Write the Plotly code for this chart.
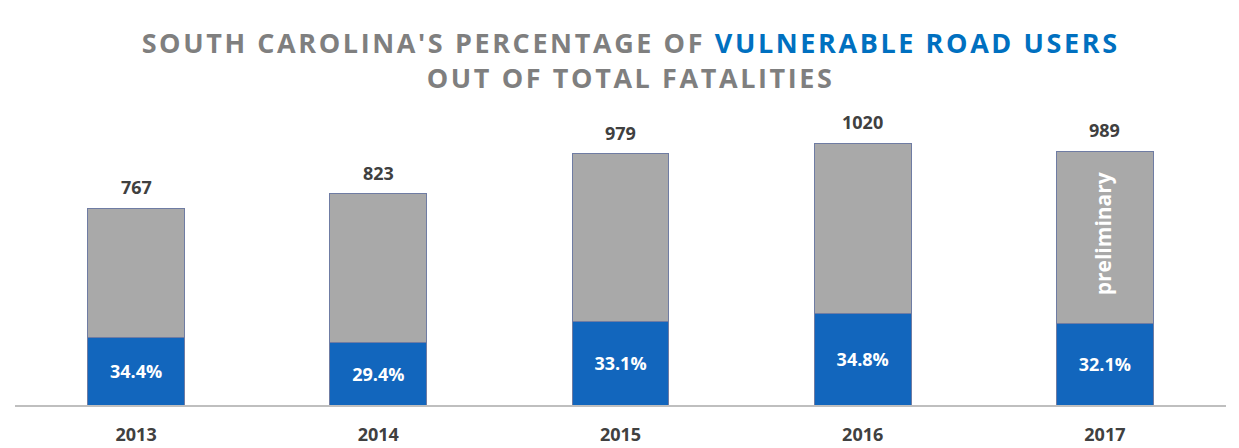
"""South Carolina vulnerable road users share of total fatalities."""

import plotly.graph_objects as go

# Data
YEARS = ["2013", "2014", "2015", "2016", "2017"]
TOTAL_FATALITIES = [767, 823, 979, 1020, 989]
VRU_FATALITIES = [264, 242, 324, 355, 317]
VRU_PCT_LABELS = ["34.4%", "29.4%", "33.1%", "34.8%", "32.1%"]
PRELIMINARY_YEAR = "2017"

# Style constants
GRAY_COLOR = "#a9a9a9"
BLUE_COLOR = "#1266bd"
EDGE_COLOR = "#6f7ca3"
TITLE_GRAY = "#7f7f7f"
TITLE_BLUE = "#0070c0"
TEXT_DARK = "#404040"
FONT = "Open Sans, sans-serif"

other_fatalities = [t - v for t, v in zip(TOTAL_FATALITIES, VRU_FATALITIES)]

fig = go.Figure()
fig.add_trace(go.Bar(
    x=YEARS,
    y=VRU_FATALITIES,
    marker=dict(color=BLUE_COLOR, line=dict(color=EDGE_COLOR, width=1)),
    text=VRU_PCT_LABELS,
    textposition="inside",
    insidetextanchor="middle",
    textangle=0,
    textfont=dict(family=FONT, size=18, color="white", weight="bold"),
    hoverinfo="skip",
))
fig.add_trace(go.Bar(
    x=YEARS,
    y=other_fatalities,
    marker=dict(color=GRAY_COLOR, line=dict(color=EDGE_COLOR, width=1)),
    hoverinfo="skip",
))

# Totals above bars (category index as x: year strings would be read as numbers)
for i, total in enumerate(TOTAL_FATALITIES):
    fig.add_annotation(
        x=i, y=total,
        text=str(total),
        showarrow=False,
        yanchor="bottom",
        yshift=7,
        font=dict(family=FONT, size=18, color=TEXT_DARK, weight="bold"),
    )

# "preliminary" note on the last bar
idx = YEARS.index(PRELIMINARY_YEAR)
fig.add_annotation(
    x=idx, y=TOTAL_FATALITIES[idx] - 320,
    text="preliminary",
    textangle=-90,
    showarrow=False,
    xshift=-2,
    font=dict(family=FONT, size=21, color="white", weight="bold"),
)

SPACING = "letter-spacing:2.6px"
fig.update_layout(
    title=dict(
        text=(
            f"<span style='color:{TITLE_GRAY};{SPACING}'>SOUTH CAROLINA'S PERCENTAGE OF </span>"
            f"<span style='color:{TITLE_BLUE};{SPACING}'>VULNERABLE ROAD USERS</span>"
            f"<br><span style='color:{TITLE_GRAY};{SPACING}'>OUT OF TOTAL FATALITIES</span>"
        ),
        x=0.509, xanchor="center",
        y=0.882, yanchor="middle",
        font=dict(family=FONT, size=27, weight="bold"),
    ),
    barmode="stack",
    bargap=0.6,
    showlegend=False,
    width=1239,
    height=448,
    margin=dict(l=15, r=13, t=110, b=43),
    plot_bgcolor="white",
    paper_bgcolor="white",
    xaxis=dict(
        type="category",
        range=[-0.5, len(YEARS) - 0.5],
        automargin=False,
        showline=True,
        linecolor="#bfbfbf",
        linewidth=2,
        ticks="",
        ticklabelstandoff=12,
        tickfont=dict(family=FONT, size=18, color=TEXT_DARK, weight="bold"),
    ),
    yaxis=dict(
        range=[0, 1150],
        visible=False,
        showgrid=False,
    ),
)

# drop the default 8px body margin so the figure fills the window exactly
fig.write_html(
    "out.html",
    config={"displayModeBar": False},
    post_script="document.body.style.margin = '0';",
)
